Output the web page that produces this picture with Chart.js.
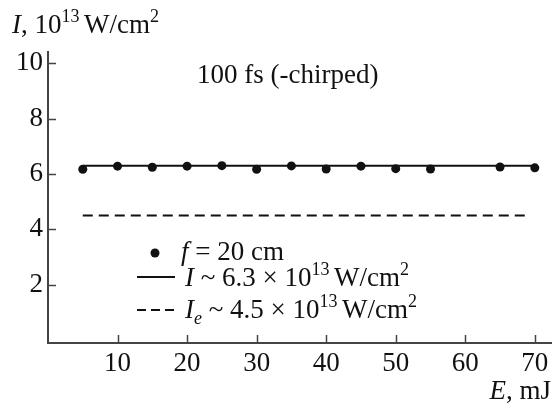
<!DOCTYPE html>
<html>
<head>
<meta charset="utf-8">
<script src="https://cdn.jsdelivr.net/npm/chart.js@4.4.1/dist/chart.umd.min.js"></script>
<style>
  html, body { margin: 0; padding: 0; background: #fff; }
  #wrap { width: 556px; height: 406px; }
</style>
</head>
<body>
<div id="wrap"><canvas id="c" width="556" height="406"></canvas></div>
<script>
// Pulse energy (mJ) and measured peak intensity (10^13 W/cm^2), f = 20 cm
const energyMJ = [5, 10, 15, 20, 25, 30, 35, 40, 45, 50, 55, 65, 70];
const intensity = [6.17, 6.28, 6.24, 6.28, 6.30, 6.17, 6.29, 6.18, 6.28, 6.19, 6.18, 6.25, 6.22];

// Mean intensity level and the estimated threshold level
const meanLevel = 6.3;
const meanRange = [5, 70];
const thresholdLevel = 4.5;
const thresholdRange = [5, 69];

// Axis tick labels
const xTicks = [10, 20, 30, 40, 50, 60, 70];
const yTicks = [2, 4, 6, 8, 10];

const FONT = '"Liberation Serif", "Times New Roman", serif';
const INK = '#111';
const AXIS = '#444';
const BASE = 27;
const SMALL = 18;

// Draw a run of text pieces (normal / italic / superscript / subscript)
function richText(ctx, x, y, parts, align) {
  const fontOf = p => (p.it ? 'italic ' : '') + ((p.sup || p.sub) ? SMALL : BASE) + 'px ' + FONT;
  let total = 0;
  for (const p of parts) { ctx.font = fontOf(p); total += ctx.measureText(p.t).width; }
  let cx = align === 'right' ? x - total : x;
  ctx.textAlign = 'left';
  for (const p of parts) {
    ctx.font = fontOf(p);
    const dy = p.sup ? -11 : (p.sub ? 6 : 0);
    ctx.fillText(p.t, cx, y + dy);
    cx += ctx.measureText(p.t).width;
  }
  return cx;
}

const annotations = {
  id: 'annotations',
  afterDraw(chart) {
    const ctx = chart.ctx;
    const xs = chart.scales.x, ys = chart.scales.y;
    const area = chart.chartArea;
    ctx.save();
    ctx.fillStyle = INK;
    ctx.strokeStyle = AXIS;
    ctx.lineWidth = 1.5;
    ctx.textBaseline = 'alphabetic';

    // inward tick marks
    const tl = 8;
    ctx.beginPath();
    for (const v of xTicks) {
      const px = Math.round(xs.getPixelForValue(v)) + 0.5;
      ctx.moveTo(px, area.bottom);
      ctx.lineTo(px, area.bottom - tl);
    }
    for (const v of yTicks) {
      const py = Math.round(ys.getPixelForValue(v)) + 0.5;
      ctx.moveTo(area.left, py);
      ctx.lineTo(area.left + tl, py);
    }
    ctx.stroke();

    // axis titles
    richText(ctx, 12, 33, [
      { t: 'I', it: true }, { t: ', 10' }, { t: '13 ', sup: true }, { t: 'W/cm' }, { t: '2', sup: true }
    ]);
    richText(ctx, 551, 399, [{ t: 'E', it: true }, { t: ', mJ' }], 'right');

    // series label
    richText(ctx, 197, 83, [{ t: '100 fs (-chirped)' }]);

    // legend
    ctx.fillStyle = INK;
    ctx.beginPath();
    ctx.arc(155, 253, 4.5, 0, Math.PI * 2);
    ctx.fill();
    richText(ctx, 181, 260, [{ t: 'f', it: true }, { t: ' = 20 cm' }]);

    ctx.strokeStyle = INK;
    ctx.lineWidth = 2;
    ctx.beginPath();
    ctx.moveTo(137, 277); ctx.lineTo(175, 277);
    ctx.stroke();
    richText(ctx, 185, 286, [
      { t: 'I', it: true }, { t: ' ~ 6.3 × 10' }, { t: '13 ', sup: true }, { t: 'W/cm' }, { t: '2', sup: true }
    ]);

    ctx.setLineDash([9, 5]);
    ctx.beginPath();
    ctx.moveTo(137, 310); ctx.lineTo(175, 310);
    ctx.stroke();
    ctx.setLineDash([]);
    richText(ctx, 185, 318, [
      { t: 'I', it: true }, { t: 'e', it: true, sub: true }, { t: ' ~ 4.5 × 10' }, { t: '13 ', sup: true }, { t: 'W/cm' }, { t: '2', sup: true }
    ]);
    ctx.restore();
  }
};

new Chart(document.getElementById('c'), {
  type: 'scatter',
  data: {
    datasets: [
      {
        label: 'f = 20 cm',
        data: energyMJ.map((e, i) => ({ x: e, y: intensity[i] })),
        pointRadius: 4.5,
        pointBackgroundColor: INK,
        pointBorderWidth: 0,
        showLine: false,
        order: 0
      },
      {
        label: 'I',
        data: meanRange.map(e => ({ x: e, y: meanLevel })),
        showLine: true,
        borderColor: INK,
        borderWidth: 2,
        pointRadius: 0,
        order: 1
      },
      {
        label: 'Ie',
        data: thresholdRange.map(e => ({ x: e, y: thresholdLevel })),
        showLine: true,
        borderColor: INK,
        borderWidth: 2,
        borderDash: [10, 6],
        pointRadius: 0,
        order: 2
      }
    ]
  },
  options: {
    responsive: false,
    devicePixelRatio: 1,
    animation: false,
    events: [],
    layout: { padding: { top: 52, left: 0, right: 0, bottom: 0 } },
    plugins: { legend: { display: false }, tooltip: { enabled: false }, title: { display: false } },
    scales: {
      x: {
        type: 'linear',
        min: 0,
        max: 72.4,
        afterBuildTicks: s => { s.ticks = xTicks.map(v => ({ value: v })); },
        afterFit: s => { s.height = 63; },
        grid: { display: true, drawOnChartArea: false, drawTicks: false },
        border: { display: true, color: AXIS, width: 2 },
        ticks: { padding: 5, color: INK, font: { family: FONT, size: BASE }, maxRotation: 0 }
      },
      y: {
        type: 'linear',
        min: -0.1,
        max: 10.4,
        afterBuildTicks: s => { s.ticks = yTicks.map(v => ({ value: v })); },
        afterFit: s => { s.width = 48; },
        grid: { display: true, drawOnChartArea: false, drawTicks: false },
        border: { display: true, color: AXIS, width: 2 },
        ticks: { padding: 5, color: INK, font: { family: FONT, size: BASE } }
      }
    }
  },
  plugins: [annotations]
});
</script>
</body>
</html>
